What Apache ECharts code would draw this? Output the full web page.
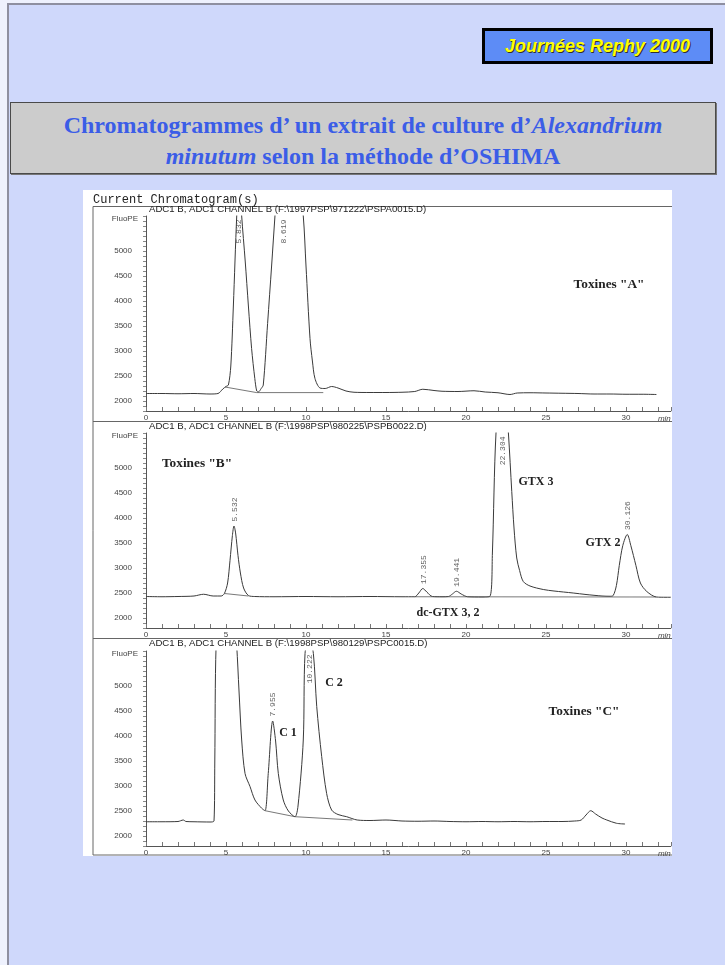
<!DOCTYPE html>
<html>
<head>
<meta charset="utf-8">
<title>Chromatogrammes - Alexandrium minutum</title>
<script src="https://cdn.jsdelivr.net/npm/echarts@6/dist/echarts.min.js"></script>
<style>
  html, body { margin: 0; padding: 0; }
  body { width: 725px; height: 965px; position: relative; overflow: hidden; background: #eef1fd; }
  .slide { position: absolute; left: 7px; top: 3px; right: 0; bottom: 0; background: #cfd8fb;
           border-left: 2px solid #8e8fa0; border-top: 2px solid #8e8fa0; }
  .badge { position: absolute; left: 482px; top: 28px; width: 231px; height: 36px; box-sizing: border-box;
           background: #5d8cf6; border: 3px solid #000; color: #ffff00; text-align: center;
           font: italic bold 18px "Liberation Sans", Arial, sans-serif; line-height: 30px;
           text-shadow: 1px 1px 0 #303030; }
  .titre { position: absolute; left: 10px; top: 102px; width: 706px; height: 72px; box-sizing: border-box;
           background: #cccccc; border: 1px solid #4a4a4a; box-shadow: 1px 1px 0 #777;
           color: #3b5de7; text-align: center; font: bold 24px "Liberation Serif", "Times New Roman", serif;
           line-height: 31px; padding-top: 7px; }
  .photo { position: absolute; left: 83px; top: 190px; width: 589px; height: 666px; background: #fff; }
  #chart { position: absolute; left: 0; top: 0; width: 725px; height: 965px; }
</style>
</head>
<body>
<div class="slide"></div>
<div class="badge">Journées Rephy 2000</div>
<div class="titre">Chromatogrammes d’ un extrait de culture d’<i>Alexandrium</i><br><i>minutum</i> selon la méthode d’OSHIMA</div>
<div class="photo"></div>
<div id="chart"></div>
<script>
var traceA = [[0,2150],[1,2150],[2,2145],[3,2150],[4,2140],[4.5,2150],[4.8,2240],[5.0,2290],[5.15,2320],
  [5.3,2700],[5.46,3900],[5.67,5700],[5.83,6600],[5.98,5700],[6.2,4800],[6.4,3900],[6.6,3050],[6.8,2450],
  [6.92,2200],[7.02,2180],[7.2,2250],[7.33,2320],[7.6,3550],[7.85,4700],[8.06,5700],[8.3,6800],[8.62,7600],
  [9.0,7400],[9.5,6600],[9.83,5700],[10.0,4700],[10.25,3250],[10.4,2800],[10.56,2450],[10.875,2260],
  [11.2,2250],[11.6,2290],[12.0,2260],[12.5,2200],[13,2175],[14,2170],[15,2170],[16,2175],[16.8,2190],
  [17.3,2235],[18,2210],[18.5,2195],[19.5,2190],[20.5,2205],[21.2,2180],[22,2165],[22.75,2130],[23.2,2160],
  [24,2165],[25,2160],[26,2155],[27,2150],[28,2140],[29,2140],[30,2135],[31,2135],[31.9,2130]];
var traceB = [[0,2430],[1,2425],[2,2430],[3,2440],[3.6,2475],[4.2,2440],[4.7,2440],[4.9,2490],[5.1,2700],
  [5.25,3150],[5.4,3650],[5.5,3840],[5.6,3700],[5.75,3250],[5.9,2900],[6.1,2600],[6.4,2450],[6.8,2430],
  [8,2425],[10,2430],[12,2425],[14,2430],[16,2425],[16.8,2425],[17.05,2500],[17.3,2590],[17.55,2520],
  [17.9,2430],[18.5,2425],[18.9,2430],[19.15,2480],[19.4,2535],[19.7,2480],[20.1,2425],[21,2420],
  [21.5,2435],[21.65,3300],[21.875,5700],[22.3,7200],[22.65,5700],[22.86,4530],[23.0,3800],[23.17,3200],
  [23.35,2950],[23.58,2730],[24.0,2640],[24.83,2570],[25.5,2540],[26.7,2500],[27.5,2470],[28.5,2440],
  [29.0,2435],[29.2,2450],[29.4,2650],[29.58,3050],[29.8,3450],[30.08,3670],[30.3,3450],[30.62,3050],
  [30.9,2700],[31.3,2530],[31.9,2420],[32.5,2415],[32.8,2415]];
var traceC = [[0,2285],[1,2285],[2,2290],[2.33,2320],[2.5,2290],[3,2285],[4,2280],[4.25,2300],[4.3,3500],
  [4.38,5800],[4.9,9500],[5.67,5800],[5.81,4920],[5.98,3920],[6.19,3250],[6.5,2990],[6.81,2720],[7.23,2555],
  [7.44,2506],[7.64,3250],[7.92,4300],[8.1,3900],[8.27,3250],[8.58,2720],[8.9,2500],[9.31,2386],[9.5,2600],
  [9.83,3920],[9.94,5650],[10.2,6000],[10.46,5650],[10.67,4590],[10.98,3590],[11.29,2850],[11.6,2520],
  [12.0,2430],[12.54,2386],[13.2,2320],[14,2310],[15,2320],[16,2300],[17,2295],[18,2300],[19,2290],
  [20,2285],[21,2290],[22,2285],[23,2290],[24,2285],[25,2290],[26,2290],[26.8,2300],[27.2,2320],
  [27.5,2420],[27.8,2506],[28.1,2440],[28.5,2360],[28.8,2320],[29.4,2255],[29.94,2240]];

// lignes de base d'intégration
var baseA = [[[4.94,2280],[6.92,2168],[11.08,2168]]];
var baseB = [[[4.9,2490],[6.4,2440]], [[16.8,2425],[31.9,2420]]];
var baseC = [[[7.44,2506],[9.31,2386],[12.9,2320]]];

// temps de rétention affichés et hauteur du sommet
var rtA = ['5.832', '8.619'];
var topA = [6600, 7600];
var rtB = ['5.532', '17.355', '19.441', '22.304', '30.126'];
var topB = [3840, 2590, 2535, 7200, 3670];
var rtC = ['7.955', '10.222'];
var topC = [4300, 6000];

var yTicks = [2000, 2500, 3000, 3500, 4000, 4500, 5000];
var xTicks = [0, 5, 10, 15, 20, 25, 30];

var headers = [
  'ADC1 B, ADC1 CHANNEL B (F:\\1997PSP\\971222\\PSPA0015.D)',
  'ADC1 B, ADC1 CHANNEL B (F:\\1998PSP\\980225\\PSPB0022.D)',
  'ADC1 B, ADC1 CHANNEL B (F:\\1998PSP\\980129\\PSPC0015.D)'
];

var YMIN = 1800, YMAX = 5700, XMAX = 32.8;
var tops = [216, 433, 651];
var ink = '#3a3a3a';
var axisCol = '#555';

var myChart = echarts.init(document.getElementById('chart'));

var grids = [], xAxes = [], yAxes = [], series = [];
var traces = [traceA, traceB, traceC];
var bases = [baseA, baseB, baseC];
var rts = [rtA, rtB, rtC];
var apex = [topA, topB, topC];

for (var i = 0; i < 3; i++) {
  grids.push({ left: 146, top: tops[i], width: XMAX * 16, height: 195 });
  xAxes.push({
    gridIndex: i, type: 'value', min: 0, max: XMAX, interval: 1,
    axisLine: { lineStyle: { color: axisCol, width: 1 } },
    axisTick: { inside: true, length: 4, lineStyle: { color: '#777' } },
    axisLabel: {
      margin: 3, fontSize: 8, color: '#444', fontFamily: 'Liberation Sans',
      formatter: function (v) { return xTicks.indexOf(Math.round(v * 1000) / 1000) >= 0 ? String(v) : ''; }
    },
    splitLine: { show: false },
    name: 'min', nameLocation: 'end', nameGap: 0,
    nameTextStyle: { fontSize: 8, fontStyle: 'italic', color: '#444', align: 'right', verticalAlign: 'top', padding: [4, 0, 0, 0] }
  });
  yAxes.push({
    gridIndex: i, type: 'value', min: YMIN, max: YMAX, interval: 100,
    axisLine: { show: true, lineStyle: { color: axisCol, width: 1 } },
    axisTick: { show: true, length: 3, lineStyle: { color: '#888' } },
    axisLabel: {
      margin: 14, fontSize: 8, color: '#444', fontFamily: 'Liberation Sans',
      formatter: function (v) { return yTicks.indexOf(v) >= 0 ? String(v) : ''; }
    },
    splitLine: { show: false },
    name: 'FluoPE', nameLocation: 'end', nameGap: -3,
    nameTextStyle: { fontSize: 8, color: '#444', fontFamily: 'Liberation Sans', align: 'right', verticalAlign: 'middle', padding: [0, 8, 0, 0] }
  });

  series.push({
    type: 'line', name: 'trace' + i, xAxisIndex: i, yAxisIndex: i, data: traces[i],
    showSymbol: false, smooth: 0.3, clip: true, silent: true,
    lineStyle: { color: ink, width: 1 }
  });
  bases[i].forEach(function (seg) {
    series.push({
      type: 'line', xAxisIndex: i, yAxisIndex: i, data: seg, showSymbol: false, silent: true,
      lineStyle: { color: '#555', width: 0.8 }
    });
  });

  var lab = rts[i].map(function (rt, k) {
    var h = apex[i][k];
    var cut = h > YMAX;
    return {
      value: [parseFloat(rt), Math.min(h, YMAX)],
      label: cut
        ? { position: 'bottom', distance: 3, align: 'right', verticalAlign: 'middle' }
        : { position: 'top', distance: 4, align: 'left', verticalAlign: 'middle' },
      rt: rt
    };
  });
  series.push({
    type: 'scatter', xAxisIndex: i, yAxisIndex: i, data: lab, symbolSize: 1, silent: true,
    itemStyle: { color: 'transparent' },
    label: {
      show: true, rotate: 90, fontSize: 8, color: '#333', fontFamily: 'Liberation Mono',
      formatter: function (p) { return p.data.rt; }
    }
  });
}

function txt(x, y, s, font, align) {
  return { type: 'text', x: x, y: y, silent: true,
    style: { text: s, font: font, fill: '#222', align: align || 'center', verticalAlign: 'middle' } };
}
function seg(x1, y1, x2, y2) {
  return { type: 'line', silent: true, shape: { x1: x1, y1: y1, x2: x2, y2: y2 },
    style: { stroke: '#666', lineWidth: 1 } };
}

var serif = 'bold 12px "Liberation Serif"';
var serifBig = 'bold 13.3px "Liberation Serif"';
var hdr = '9.6px "Liberation Sans"';
var graphics = [
  seg(93, 206.5, 672, 206.5), seg(93, 206.5, 93, 855), seg(93, 421.5, 672, 421.5),
  seg(93, 638.5, 672, 638.5), seg(93, 855, 672, 855),
  txt(93, 200, 'Current Chromatogram(s)', '12px "Liberation Mono"', 'left'),
  txt(149, 209.5, headers[0], hdr, 'left'),
  txt(149, 426, headers[1], hdr, 'left'),
  txt(149, 643.5, headers[2], hdr, 'left'),
  txt(609, 285, 'Toxines "A"', serifBig),
  txt(197, 464, 'Toxines "B"', serifBig),
  txt(536, 482, 'GTX 3', serif),
  txt(603, 543, 'GTX 2', serif),
  txt(448, 613, 'dc-GTX 3, 2', serif),
  txt(584, 712, 'Toxines "C"', serifBig),
  txt(288, 733, 'C 1', serif),
  txt(334, 683, 'C 2', serif)
];

var option = {
  animation: false,
  grid: grids,
  xAxis: xAxes,
  yAxis: yAxes,
  series: series,
  graphic: graphics
};
myChart.setOption(option);
</script>
</body>
</html>
